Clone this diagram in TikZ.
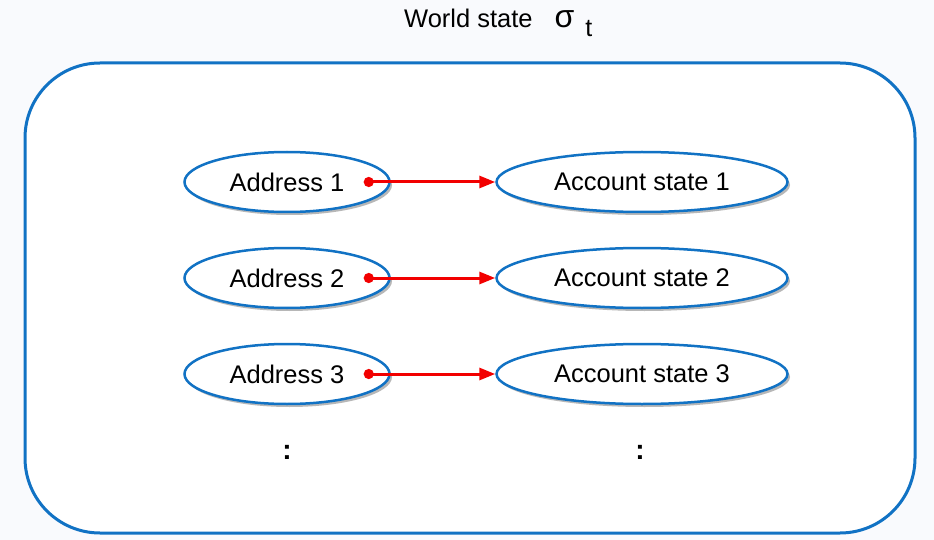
\documentclass[tikz,border=0pt]{standalone}
\usepackage{fontspec}
\setmainfont{Liberation Sans}
\usetikzlibrary{shapes.geometric,arrows.meta,shadows}
\definecolor{stateblue}{HTML}{1172C4}
\definecolor{linkred}{HTML}{F20000}
\definecolor{pagetint}{HTML}{F9FAFD}

\tikzset{
  keynode/.style={ellipse, draw=stateblue, line width=2.5pt, fill=white,
    minimum width=205pt, minimum height=60pt, inner sep=0pt,
    drop shadow={shadow xshift=2.5pt, shadow yshift=-3pt, opacity=0.4, fill=black!70}},
  valnode/.style={keynode, minimum width=291pt},
  link/.style={linkred, line width=3pt,
    {Circle[length=10pt]}-{Triangle[length=16pt,width=12pt]}}
}

\begin{document}
\begin{tikzpicture}[x=1pt, y=-1pt, font=\fontsize{25.5}{30}\selectfont]
  \useasboundingbox (0,0) rectangle (934,540);
  \fill[pagetint] (0,0) rectangle (934,540);
  \draw[stateblue, line width=3pt, fill=white, rounded corners=75pt] (25,63) rectangle (915,533);
  \node[anchor=base west, inner sep=0pt] (title) at (404,28)
    {World state\hspace{22pt}{\fontsize{32}{32}\selectfont σ}\hspace{11pt}\raisebox{-9pt}{\fontsize{25}{25}\selectfont t}};
  % addresses and account states
  \node[keynode] (a1) at (287,182) {Address 1};
  \node[keynode] (a2) at (287,278) {Address 2};
  \node[keynode] (a3) at (287,374) {Address 3};
  \node[valnode] (b1) at (642,182) {Account state 1};
  \node[valnode] (b2) at (642,278) {Account state 2};
  \node[valnode] (b3) at (642,374) {Account state 3};
  \node[font=\fontsize{28}{30}\bfseries] (d1) at (287,452) {:};
  \node[font=\fontsize{28}{30}\bfseries] (d2) at (640,452) {:};
  % links
  \coordinate (s1) at ([xshift=-27pt]a1.east);
  \coordinate (s2) at ([xshift=-27pt]a2.east);
  \coordinate (s3) at ([xshift=-27pt]a3.east);
  \draw[link] (s1) -- (b1.west);
  \draw[link] (s2) -- (b2.west);
  \draw[link] (s3) -- (b3.west);
\end{tikzpicture}
\end{document}
